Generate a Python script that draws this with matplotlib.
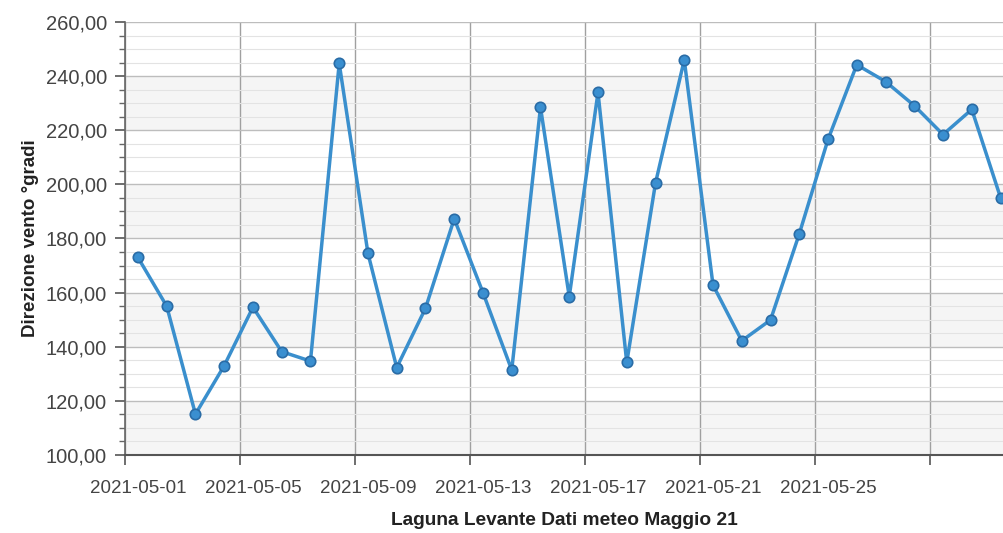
import matplotlib.pyplot as plt
from matplotlib.ticker import FuncFormatter, MultipleLocator

plt.rcParams['font.family'] = ['Liberation Sans', 'DejaVu Sans']

dates = ["2021-05-%02d" % d for d in range(1, 32)]
direction = [173.0, 155.0, 115.1, 133.0, 154.6, 138.2, 134.7, 244.7,
             174.5, 132.3, 154.2, 187.3, 160.0, 131.4, 228.5, 158.5,
             234.0, 134.2, 200.5, 246.0, 162.8, 142.2, 149.9, 181.7,
             216.6, 244.2, 238.0, 229.1, 218.4, 227.7, 195.1]
label_dates = ["2021-05-01", "2021-05-05", "2021-05-09", "2021-05-13",
               "2021-05-17", "2021-05-21", "2021-05-25"]

x = list(range(len(dates)))
offset = 0.45  # grid lines sit a little before the labelled day

fig = plt.figure(figsize=(10.04, 5.33), dpi=100)
ax = fig.add_axes([125 / 1004, 1 - 455 / 533, 1 - 125 / 1004, (455 - 22) / 533])

ax.set_xlim(-offset, 30.12)
ax.set_ylim(100, 260)

# alternating grey bands
for lo in range(100, 260, 40):
    ax.axhspan(lo, lo + 20, color="#f5f5f5", zorder=0, lw=0)

ax.yaxis.set_major_locator(MultipleLocator(20))
ax.yaxis.set_minor_locator(MultipleLocator(5))
ax.yaxis.set_major_formatter(FuncFormatter(lambda v, p: f"{v:.2f}".replace(".", ",")))
ax.grid(which="major", axis="y", color="#bdbdbd", lw=1.0, zorder=1)
ax.grid(which="minor", axis="y", color="#e3e3e3", lw=0.8, zorder=1)

major_x = [i - offset for i in range(0, 29, 4)]
ax.set_xticks(major_x)
ax.set_xticklabels([""] * len(major_x))
ax.grid(which="major", axis="x", color="#a0a0a0", lw=1.0, zorder=1)
ax.set_xticks([dates.index(d) for d in label_dates], minor=True)
ax.set_xticklabels(label_dates, minor=True)

ax.tick_params(axis="x", which="major", length=7, width=1.2, color="#555555", direction="out")
ax.tick_params(axis="x", which="minor", length=0, pad=18, labelsize=13.5, labelcolor="#444444")
ax.tick_params(axis="y", which="major", length=7, width=1.2, color="#555555",
               labelsize=14.5, labelcolor="#444444", pad=6)
ax.tick_params(axis="y", which="minor", length=4, width=1.0, color="#666666")

for s in ["top", "right"]:
    ax.spines[s].set_visible(False)
ax.spines["left"].set_color("#666666")
ax.spines["left"].set_linewidth(1.2)
ax.spines["bottom"].set_color("#555555")
ax.spines["bottom"].set_linewidth(1.5)

ax.plot(x, direction, color="#3a8fcd", lw=2.5, marker="o", markersize=7.5,
        markerfacecolor="#3a8fd0", markeredgecolor="#2a6ca6", markeredgewidth=1.2,
        zorder=3, clip_on=True)

ax.set_ylabel("Direzione vento °gradi", fontsize=13.5, fontweight="bold", color="#222222", labelpad=5)
ax.set_xlabel("Laguna Levante Dati meteo Maggio 21", fontsize=13.8, fontweight="bold",
              color="#222222", labelpad=11)

fig.savefig("out.png", dpi=100)
